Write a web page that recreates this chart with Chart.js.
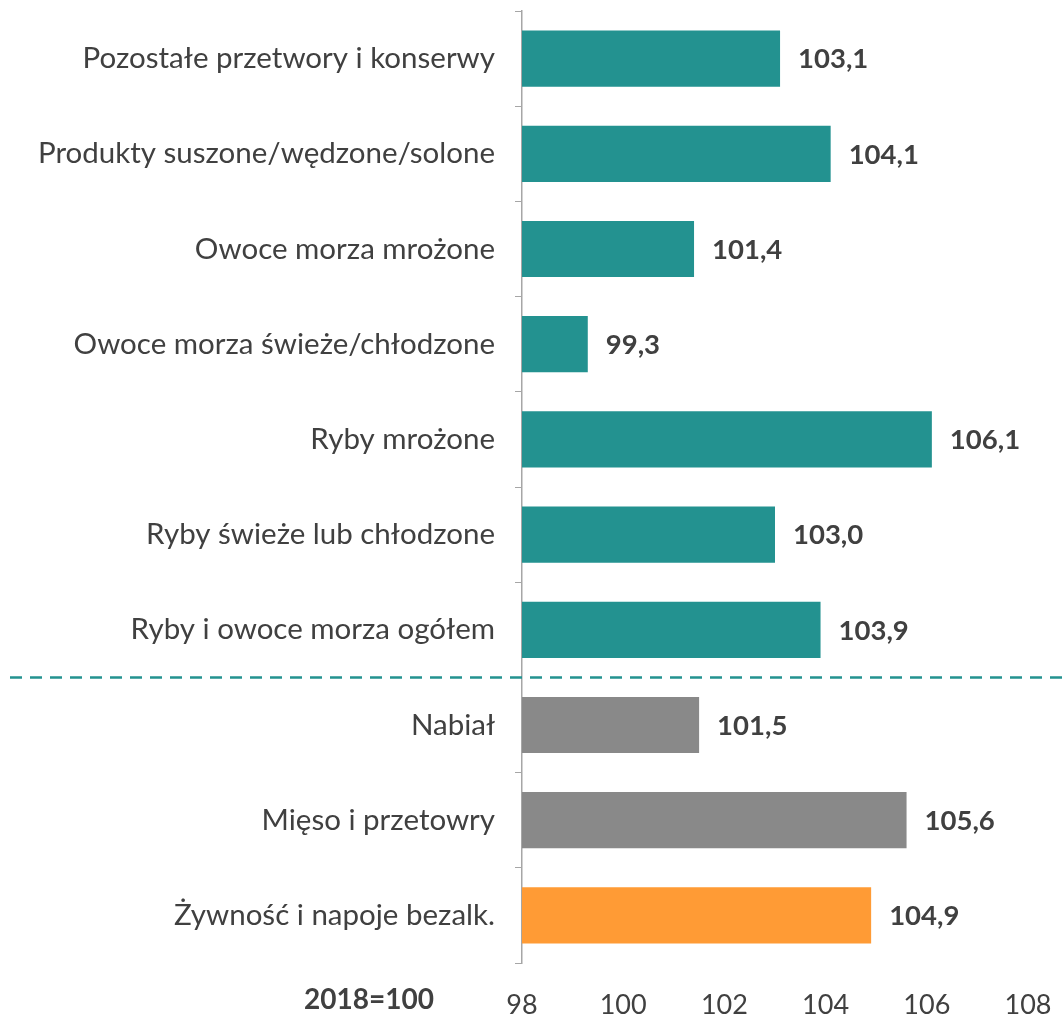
<!DOCTYPE html>
<html>
<head>
<meta charset="utf-8">
<script src="https://cdn.jsdelivr.net/npm/chart.js@4"></script>
<style>
  body { margin: 0; background: #fff; }
  #wrap { width: 1063px; height: 1024px; }
</style>
</head>
<body>
<div id="wrap"><canvas id="chart" width="1063" height="1024"></canvas></div>
<script>
// categories and values, top to bottom
var categories = [
  'Pozostałe przetwory i konserwy',
  'Produkty suszone/wędzone/solone',
  'Owoce morza mrożone',
  'Owoce morza świeże/chłodzone',
  'Ryby mrożone',
  'Ryby świeże lub chłodzone',
  'Ryby i owoce morza ogółem',
  'Nabiał',
  'Mięso i przetowry',
  'Żywność i napoje bezalk.'
];
var values = [103.1, 104.1, 101.4, 99.3, 106.1, 103.0, 103.9, 101.5, 105.6, 104.9];
var groups = ['fish', 'fish', 'fish', 'fish', 'fish', 'fish', 'fish', 'other', 'other', 'total'];
var xTicks = [98, 100, 102, 104, 106, 108];
var baseNote = '2018=100';

var groupColors = { fish: '#239290', other: '#898989', total: '#FF9B35' };
var fontFamily = 'Lato, "Open Sans", sans-serif';
var textColor = '#404040';

// value labels, divider line and base note
var extrasPlugin = {
  id: 'extras',
  afterDatasetsDraw: function(chart) {
    var ctx = chart.ctx;
    var meta = chart.getDatasetMeta(0);
    ctx.save();
    ctx.font = 'bold 27.5px ' + fontFamily;
    ctx.fillStyle = textColor;
    ctx.textAlign = 'left';
    ctx.textBaseline = 'middle';
    meta.data.forEach(function(bar, i) {
      ctx.fillText(values[i].toFixed(1).replace('.', ','), bar.x + 18, bar.y + 1);
    });

    // dashed line between fish and other groups
    var y = chart.scales.y.getPixelForValue(6.5);
    ctx.strokeStyle = '#239290';
    ctx.lineWidth = 2.5;
    ctx.setLineDash([12, 8]);
    ctx.beginPath();
    ctx.moveTo(10, y);
    ctx.lineTo(chart.width, y);
    ctx.stroke();
    ctx.setLineDash([]);

    ctx.font = 'bold 28px ' + fontFamily;
    ctx.textAlign = 'center';
    ctx.fillText(baseNote, 369, 1000);
    ctx.restore();
  }
};

var ctx = document.getElementById('chart').getContext('2d');
new Chart(ctx, {
  type: 'bar',
  data: {
    labels: categories,
    datasets: [{
      data: values,
      backgroundColor: groups.map(function(g) { return groupColors[g]; }),
      categoryPercentage: 1,
      barPercentage: 0.59,
      base: 98
    }]
  },
  options: {
    indexAxis: 'y',
    responsive: false,
    animation: false,
    devicePixelRatio: 1,
    layout: { padding: { top: 11, right: 35, left: 0, bottom: 0 } },
    plugins: {
      legend: { display: false },
      tooltip: { enabled: false }
    },
    scales: {
      x: {
        min: 98,
        max: 108,
        afterBuildTicks: function(scale) {
          scale.ticks = xTicks.map(function(v) { return { value: v }; });
        },
        grid: { display: false },
        border: { display: false },
        ticks: {
          color: textColor,
          font: { family: fontFamily, size: 27 },
          padding: 18
        },
        afterFit: function(scale) {
          scale.height = 61;
          scale.paddingLeft = 0;
          scale.paddingRight = 0;
        }
      },
      y: {
        grid: {
          drawOnChartArea: false,
          drawTicks: true,
          tickLength: 7,
          color: '#A6A6A6',
          offset: true
        },
        border: { display: true, color: '#A6A6A6', width: 1.5 },
        ticks: {
          color: textColor,
          font: { family: fontFamily, size: 29.5 },
          padding: 20
        },
        afterFit: function(scale) {
          scale.width = 522;
          scale.paddingTop = 0;
          scale.paddingBottom = 0;
        }
      }
    }
  },
  plugins: [extrasPlugin]
});
</script>
</body>
</html>
